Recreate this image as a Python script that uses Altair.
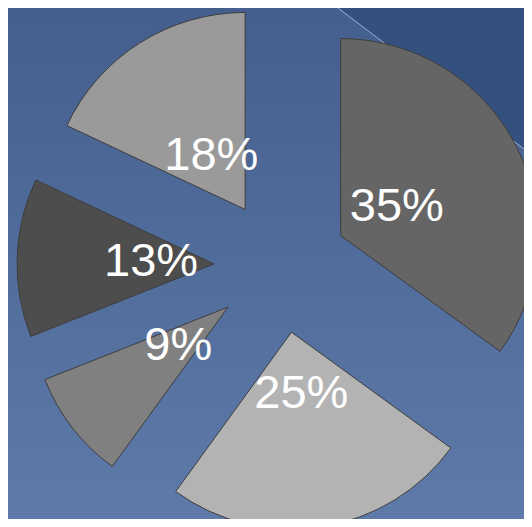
import altair as alt
import pandas as pd
import math

# ---- data ----
labels = ["35%", "25%", "9%", "13%", "18%"]
values = [35, 25, 9, 13, 18]
order = [0, 1, 2, 3, 4]
colors = ["#656565", "#b3b3b3", "#808080", "#4d4d4d", "#9a9a9a"]

df = pd.DataFrame({"label": labels, "value": values, "idx": order})

W, H = 516, 511
CX, CY = 273, 258      # pie centre (view px)
EXPLODE = 67           # explosion distance
R = 197                # slice radius
LABEL_R = 63           # label distance from slice apex

theta_scale = alt.Scale(domain=[0, 100], range=[0, 2 * math.pi])

base = alt.Chart(df).transform_window(
    cum="sum(value)", sort=[alt.SortField("idx")]
).transform_joinaggregate(
    total="sum(value)"
).transform_calculate(
    p1="100 * datum.cum / datum.total",
    p0="100 * (datum.cum - datum.value) / datum.total",
).transform_calculate(
    pm="(datum.p0 + datum.p1) / 2",
).transform_calculate(
    px=f"{CX} + {EXPLODE} * sin(datum.pm / 100 * 2 * PI)",
    py=f"{CY} - {EXPLODE} * cos(datum.pm / 100 * 2 * PI)",
)

slices = base.mark_arc(radius=R, stroke="#3d3d3d", strokeWidth=1).encode(
    theta=alt.Theta("p0:Q", scale=theta_scale),
    theta2="p1:Q",
    x=alt.X("px:Q", scale=None, axis=None),
    y=alt.Y("py:Q", scale=None, axis=None),
    color=alt.Color("label:N", scale=alt.Scale(domain=labels, range=colors), legend=None),
)

texts = base.mark_text(
    radius=LABEL_R, font="Liberation Sans", fontSize=47, color="white",
    align="center", baseline="middle",
).encode(
    theta=alt.Theta("pm:Q", scale=theta_scale),
    x=alt.X("px:Q", scale=None, axis=None),
    y=alt.Y("py:Q", scale=None, axis=None),
    text="label:N",
)

one = alt.Data(values=[{"k": 1}])

bg = alt.Chart(one).mark_rect(
    color=alt.Gradient(
        gradient="linear",
        stops=[alt.GradientStop(color="#445f8d", offset=0),
               alt.GradientStop(color="#5e7aa9", offset=1)],
        x1=0, x2=0, y1=0, y2=1,
    )
).encode(x=alt.value(0), x2=alt.value(W), y=alt.value(0), y2=alt.value(H))

corner = alt.Chart(one).mark_point(
    shape="M-1,-0.758 L1,-0.758 L1,0.758 Z", filled=True, strokeWidth=0,
    color="#34507f", opacity=1, size=194 * 194,
).encode(x=alt.value(427), y=alt.value(73.5))

line = alt.Chart(one).mark_rule(color="#a9bbd6", strokeWidth=1, opacity=0.9).encode(
    x=alt.value(330), y=alt.value(0), x2=alt.value(524), y2=alt.value(147)
)

chart = alt.layer(bg, corner, line, slices, texts).properties(
    width=W, height=H, padding=0, autosize=alt.AutoSizeParams(type="none"),
    background="#445f8d",
).configure_view(stroke=None)

chart.save("out.html", embed_options={"renderer": "svg", "actions": False})
